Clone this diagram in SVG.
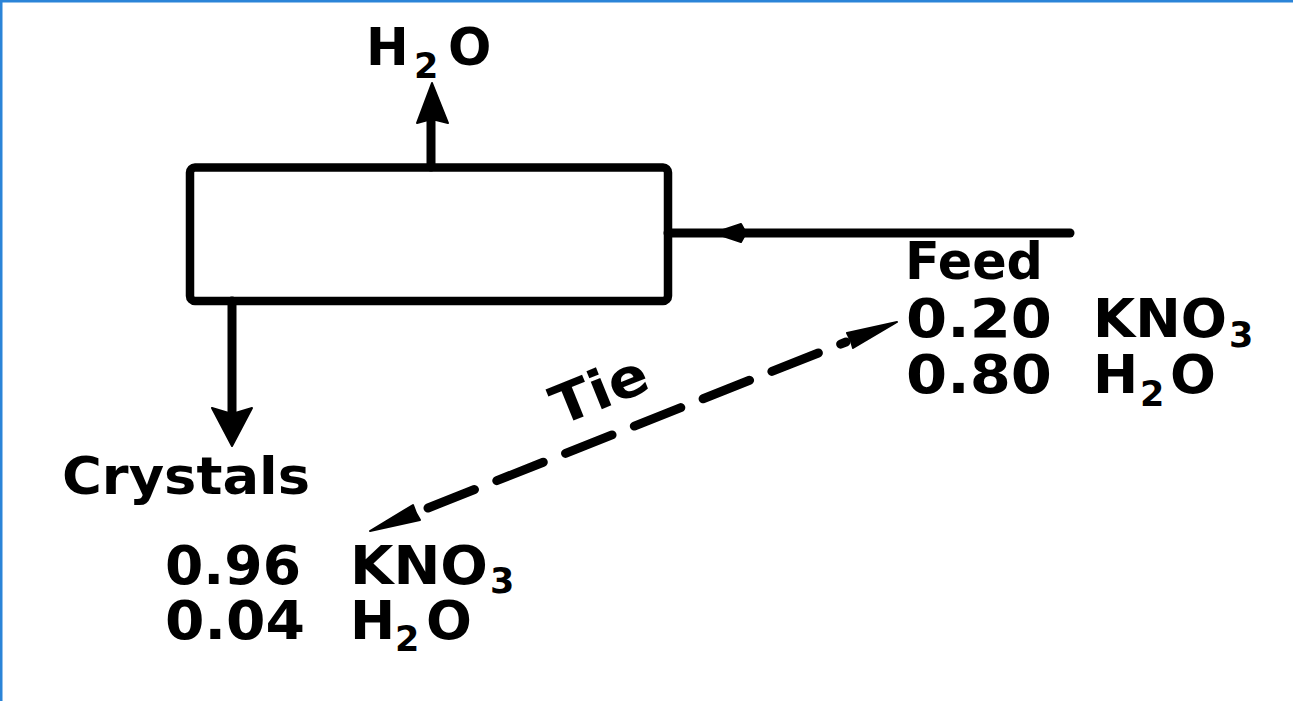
<svg xmlns="http://www.w3.org/2000/svg" width="1293" height="701" viewBox="0 0 1293 701">
  <style>
    .t { font-family: "DejaVu Sans", "Liberation Sans", sans-serif; font-weight: bold; fill: #000; font-size: 54px; }
    .lbl { font-size: 51px; }
    .sub { font-size: 35px; }
    .ln { stroke: #000; fill: none; stroke-width: 9; stroke-linecap: round; }
    .ah { fill: #000; stroke: #000; stroke-width: 2; stroke-linejoin: round; }
  </style>
  <rect x="0" y="0" width="1293" height="701" fill="#ffffff"/>
  <rect x="0" y="0" width="1293" height="2.5" fill="#2b84d8"/>
  <rect x="0" y="0" width="2.5" height="701" fill="#2b84d8"/>

  <g id="crystallizer">
    <rect x="190" y="167.5" width="478" height="133.5" rx="5" fill="none" stroke="#000" stroke-width="8.5"/>
  </g>

  <g id="connectors">
    <!-- water vapour out -->
    <line class="ln" x1="431" y1="167" x2="431" y2="118" stroke-linecap="butt"/>
    <polygon class="ah" points="432,83 448,123 436,120 428,120 417,123"/>
    <!-- crystals out -->
    <line class="ln" x1="232" y1="301" x2="232" y2="415" stroke-linecap="butt"/>
    <polygon class="ah" points="232,446 212,408 232,414 252,408"/>
    <!-- feed in -->
    <line class="ln" x1="668" y1="233" x2="1070" y2="233" stroke-width="8"/>
    <polygon class="ah" points="714,233 741,224 746,233 741,242"/>
    <!-- tie line -->
    <line class="ln" x1="428" y1="508" x2="846" y2="342" stroke-width="8" stroke-dasharray="50 24"/>
    <polygon class="ah" points="897,322 853,348 851,341 847,333"/>
    <polygon class="ah" points="370,531 413,505 416,513 420,520"/>
  </g>

  <g id="label-water">
    <text class="t lbl" font-size="49"><tspan x="366" y="65">H</tspan><tspan class="sub" x="414" y="78">2</tspan><tspan x="448" y="65">O</tspan></text>
  </g>

  <g id="label-feed">
    <text class="t lbl" x="905" y="279" textLength="138" lengthAdjust="spacingAndGlyphs">Feed</text>
    <text class="t" x="906" y="337" textLength="146" lengthAdjust="spacingAndGlyphs">0.20</text>
    <text class="t" x="1093" y="337" textLength="134" lengthAdjust="spacingAndGlyphs">KNO</text>
    <text class="t sub" x="1229" y="347">3</text>
    <text class="t" x="906" y="393" textLength="146" lengthAdjust="spacingAndGlyphs">0.80</text>
    <text class="t"><tspan x="1093" y="393">H</tspan><tspan class="sub" x="1140" y="406">2</tspan><tspan x="1170" y="393">O</tspan></text>
  </g>

  <g id="label-tie">
    <text class="t" x="560" y="426" font-size="35" textLength="100" lengthAdjust="spacingAndGlyphs" transform="rotate(-22 560 426)">Tie</text>
  </g>

  <g id="label-crystals">
    <text class="t lbl" x="62" y="494" textLength="248" lengthAdjust="spacingAndGlyphs">Crystals</text>
    <text class="t" x="165" y="584" textLength="136" lengthAdjust="spacingAndGlyphs">0.96</text>
    <text class="t" x="350" y="584" textLength="138" lengthAdjust="spacingAndGlyphs">KNO</text>
    <text class="t sub" x="490" y="593">3</text>
    <text class="t" x="165" y="639" textLength="140" lengthAdjust="spacingAndGlyphs">0.04</text>
    <text class="t"><tspan x="350" y="639">H</tspan><tspan class="sub" x="395" y="651">2</tspan><tspan x="426" y="639">O</tspan></text>
  </g>
</svg>
